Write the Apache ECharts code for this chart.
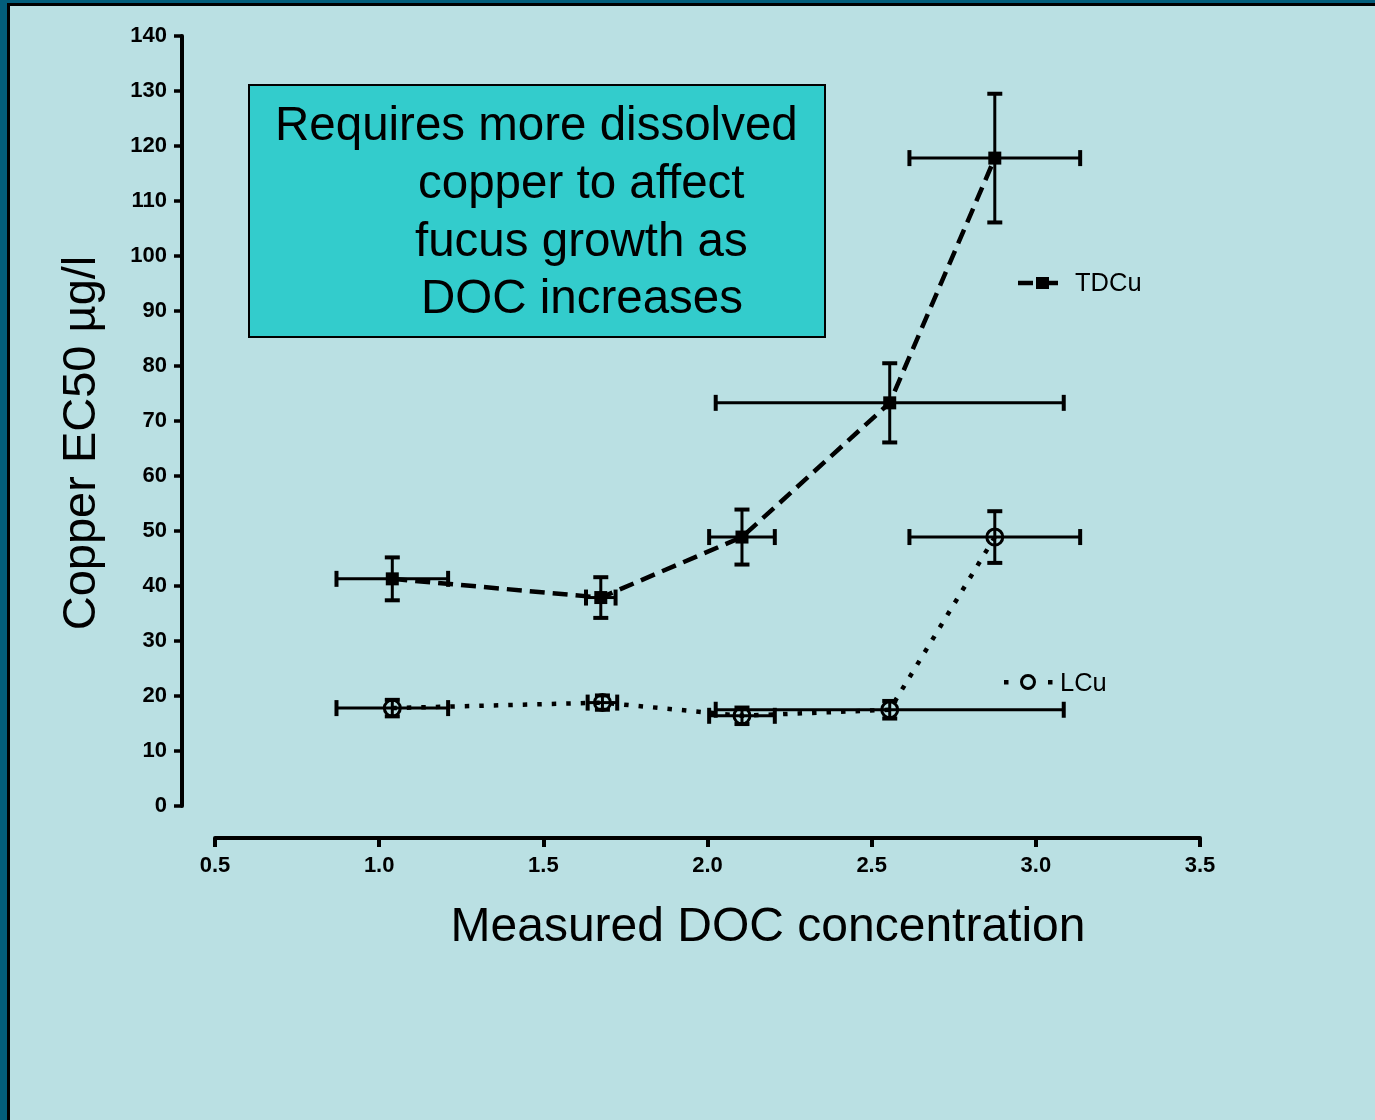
<!DOCTYPE html>
<html>
<head>
<meta charset="utf-8">
<script src="https://cdn.jsdelivr.net/npm/echarts@6/dist/echarts.min.js"></script>
<style>
html,body{margin:0;padding:0;background:#bae0e3;}
#chart{position:absolute;left:0;top:0;width:1375px;height:1120px;}
</style>
</head>
<body>
<div id="chart"></div>
<script>
// ---- data ----
const tdcuX    = [1.04, 1.675, 2.105, 2.555, 2.875];
const tdcuY    = [41.3, 37.9, 48.9, 73.3, 117.8];
const tdcuXErr = [0.17, 0.045, 0.10, 0.53, 0.26];
const tdcuYErr = [3.9, 3.7, 5.0, 7.2, 11.7];

const lcuX     = [1.04, 1.68, 2.105, 2.555, 2.875];
const lcuY     = [17.8, 18.8, 16.4, 17.5, 48.9];
const lcuXErr  = [0.17, 0.045, 0.10, 0.53, 0.26];
const lcuYErr  = [1.5, 1.3, 1.5, 1.6, 4.7];

const xTicks = [0.5, 1.0, 1.5, 2.0, 2.5, 3.0, 3.5];
const yTicks = [0, 10, 20, 30, 40, 50, 60, 70, 80, 90, 100, 110, 120, 130, 140];

const boxLines = ['Requires more dissolved', 'copper to affect', 'fucus growth as', 'DOC increases'];
const xTitle = 'Measured DOC concentration';
const yTitle = 'Copper EC50 µg/l';
const seriesNames = ['TDCu', 'LCu'];

// ---- helpers ----
const BG = '#bae0e3';
const FONT = '"Liberation Sans", Arial, sans-serif';

function pairs(xs, ys){ return xs.map((x,i)=>[x, ys[i]]); }
function errData(xs, ys, exs, eys){ return xs.map((x,i)=>[x, ys[i], exs[i], eys[i]]); }

function renderErr(params, api){
  const x = api.value(0), y = api.value(1), ex = api.value(2), ey = api.value(3);
  const l = api.coord([x-ex, y]), r = api.coord([x+ex, y]);
  const t = api.coord([x, y+ey]), b = api.coord([x, y-ey]);
  const cw = 7.5, ch = 8;
  const st = {stroke:'#000', lineWidth:3};
  const cs = {stroke:'#000', lineWidth:4};
  return {type:'group', children:[
    {type:'line', shape:{x1:l[0], y1:l[1], x2:r[0], y2:r[1]}, style:st},
    {type:'line', shape:{x1:l[0], y1:l[1]-ch, x2:l[0], y2:l[1]+ch}, style:cs},
    {type:'line', shape:{x1:r[0], y1:r[1]-ch, x2:r[0], y2:r[1]+ch}, style:cs},
    {type:'line', shape:{x1:t[0], y1:t[1], x2:b[0], y2:b[1]}, style:st},
    {type:'line', shape:{x1:t[0]-cw, y1:t[1], x2:t[0]+cw, y2:t[1]}, style:cs},
    {type:'line', shape:{x1:b[0]-cw, y1:b[1], x2:b[0]+cw, y2:b[1]}, style:cs}
  ]};
}

const boxTextPos = [[275,127],[418,185],[415,243],[421,300]];

const chart = echarts.init(document.getElementById('chart'), null, {renderer:'canvas'});
const option = {
  backgroundColor: BG,
  animation: false,
  grid: {left:215, right:175, top:36, bottom:314, containLabel:false},
  xAxis: {
    type:'value', min:0.5, max:3.5, interval:0.5, offset:32,
    axisLine:{show:true, onZero:false, lineStyle:{color:'#000', width:4}},
    axisTick:{show:true, length:9, lineStyle:{color:'#000', width:4}},
    splitLine:{show:false},
    axisLabel:{color:'#000', fontSize:22, fontWeight:'bold', fontFamily:FONT, margin:17,
      formatter:v=>v.toFixed(1)}
  },
  yAxis: {
    type:'value', min:0, max:140, interval:10, offset:33,
    axisLine:{show:true, onZero:false, lineStyle:{color:'#000', width:4}},
    axisTick:{show:true, length:8, lineStyle:{color:'#000', width:3.5}},
    splitLine:{show:false},
    axisLabel:{color:'#000', fontSize:22, fontWeight:'bold', fontFamily:FONT, margin:15}
  },
  series: [
    {type:'custom', name:'TDCu err', renderItem:renderErr, clip:false,
      encode:{x:0, y:1}, data:errData(tdcuX, tdcuY, tdcuXErr, tdcuYErr), z:3},
    {type:'custom', name:'LCu err', renderItem:renderErr, clip:false,
      encode:{x:0, y:1}, data:errData(lcuX, lcuY, lcuXErr, lcuYErr), z:3},
    {type:'line', name:seriesNames[0], data:pairs(tdcuX, tdcuY), symbol:'rect', symbolSize:13,
      lineStyle:{color:'#000', width:4.5, type:[15,8]}, itemStyle:{color:'#000'}, z:4},
    {type:'line', name:seriesNames[1], data:pairs(lcuX, lcuY), symbol:'circle', symbolSize:16,
      lineStyle:{color:'#000', width:4.5, type:[4.5,10]},
      itemStyle:{color:'rgba(0,0,0,0)', borderColor:'#000', borderWidth:3}, z:4}
  ],
  graphic: [
    // frame
    {type:'rect', shape:{x:0, y:0, width:10, height:1120}, style:{fill:'#000'}, z:100},
    {type:'rect', shape:{x:0, y:0, width:1375, height:6}, style:{fill:'#000'}, z:100},
    {type:'rect', shape:{x:0, y:0, width:7, height:1120}, style:{fill:'#035e7b'}, z:101},
    {type:'rect', shape:{x:0, y:0, width:1375, height:3}, style:{fill:'#035e7b'}, z:101},
    // annotation box
    {type:'rect', shape:{x:249, y:85, width:576, height:252},
      style:{fill:'#33cccc', stroke:'#000', lineWidth:2}, z:50},
    ...boxLines.map((s,i)=>({type:'text', x:boxTextPos[i][0], y:boxTextPos[i][1], z:51,
      style:{text:s, fill:'#000', font:'47.5px '+FONT, textAlign:'left', textVerticalAlign:'middle'}})),
    // axis titles
    {type:'text', x:82, y:443, rotation:Math.PI/2, z:50,
      style:{text:yTitle, fill:'#000', font:'47px '+FONT, textAlign:'center', textVerticalAlign:'middle'}},
    {type:'text', x:768, y:928, z:50,
      style:{text:xTitle, fill:'#000', font:'48px '+FONT, textAlign:'center', textVerticalAlign:'middle'}},
    // legend TDCu
    {type:'line', shape:{x1:1018, y1:283, x2:1033, y2:283}, style:{stroke:'#000', lineWidth:4.5}, z:50},
    {type:'line', shape:{x1:1046, y1:283, x2:1058, y2:283}, style:{stroke:'#000', lineWidth:4.5}, z:50},
    {type:'rect', shape:{x:1036, y:277, width:13, height:12}, style:{fill:'#000'}, z:51},
    {type:'text', x:1075, y:284, z:50,
      style:{text:seriesNames[0], fill:'#000', font:'25.5px '+FONT, textAlign:'left', textVerticalAlign:'middle'}},
    // legend LCu
    {type:'rect', shape:{x:1004, y:680, width:4.5, height:4.5}, style:{fill:'#000'}, z:50},
    {type:'rect', shape:{x:1048, y:680, width:4.5, height:4.5}, style:{fill:'#000'}, z:50},
    {type:'circle', shape:{cx:1028, cy:682, r:6.5}, style:{fill:'none', stroke:'#000', lineWidth:3}, z:50},
    {type:'text', x:1060, y:684, z:50,
      style:{text:seriesNames[1], fill:'#000', font:'25.5px '+FONT, textAlign:'left', textVerticalAlign:'middle'}}
  ]
};
chart.setOption(option);
</script>
</body>
</html>
